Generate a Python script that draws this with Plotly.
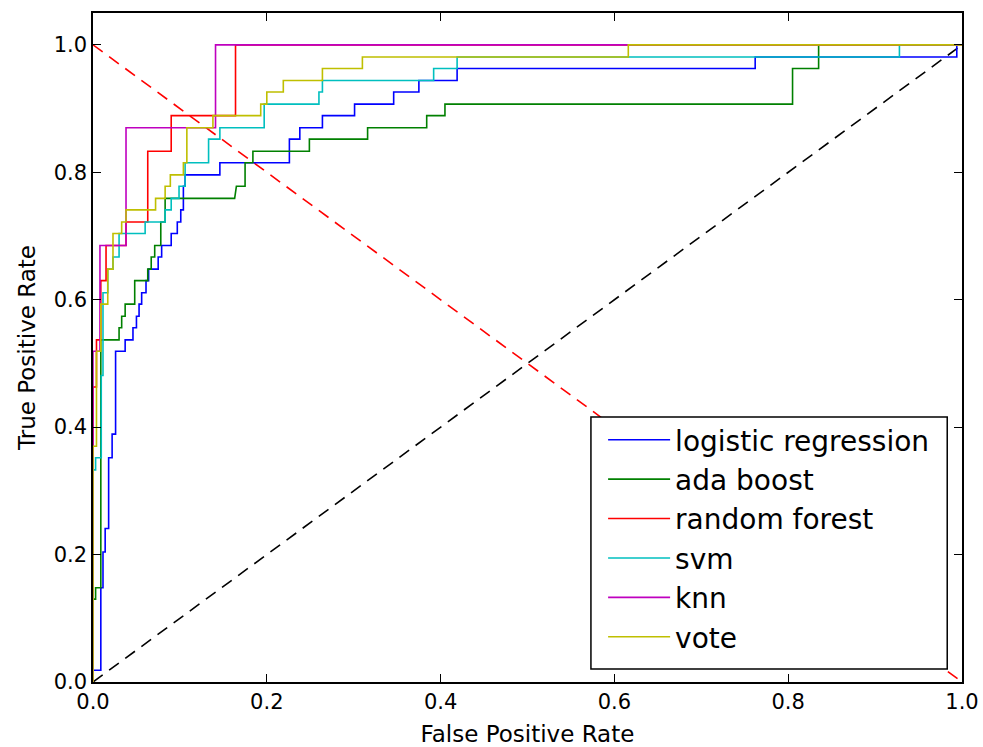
import plotly.graph_objects as go

# ROC curve points (false positive rate, true positive rate)
lr_fpr = [0, 0, 0.009, 0.009, 0.0115, 0.0115, 0.014, 0.014, 0.018, 0.018, 0.022, 0.022, 0.026, 0.026,
          0.037, 0.037, 0.046, 0.046, 0.050, 0.050, 0.053, 0.053, 0.056, 0.056, 0.061, 0.061, 0.064, 0.064,
          0.075, 0.075, 0.079, 0.079, 0.090, 0.090, 0.097, 0.097, 0.101, 0.101, 0.104, 0.104, 0.106, 0.106,
          0.146, 0.146, 0.226, 0.226, 0.238, 0.238, 0.264, 0.264, 0.301, 0.301, 0.346, 0.346, 0.375, 0.375,
          0.419, 0.419, 0.762, 0.762, 0.994, 0.994, 1.0]
lr_tpr = [0, 0.0185, 0.0185, 0.148, 0.148, 0.204, 0.204, 0.241, 0.241, 0.352, 0.352, 0.389, 0.389, 0.519,
          0.519, 0.537, 0.537, 0.556, 0.556, 0.574, 0.574, 0.593, 0.593, 0.611, 0.611, 0.630, 0.630, 0.648,
          0.648, 0.667, 0.667, 0.685, 0.685, 0.704, 0.704, 0.722, 0.722, 0.741, 0.741, 0.778, 0.778, 0.796,
          0.796, 0.815, 0.815, 0.852, 0.852, 0.870, 0.870, 0.889, 0.889, 0.907, 0.907, 0.926, 0.926, 0.944,
          0.944, 0.963, 0.963, 0.981, 0.981, 1.0, 1.0]

ada_fpr = [0, 0, 0.003, 0.003, 0.009, 0.009, 0.030, 0.030, 0.033, 0.033, 0.037, 0.037, 0.048, 0.048,
           0.063, 0.063, 0.067, 0.067, 0.071, 0.071, 0.078, 0.078, 0.083, 0.083, 0.163, 0.165, 0.175, 0.175,
           0.184, 0.184, 0.249, 0.249, 0.316, 0.316, 0.384, 0.384, 0.405, 0.405, 0.805, 0.805, 0.835, 0.835, 1.0]
ada_tpr = [0, 0.130, 0.130, 0.148, 0.148, 0.537, 0.537, 0.556, 0.556, 0.574, 0.574, 0.593, 0.593, 0.630,
           0.630, 0.648, 0.648, 0.667, 0.667, 0.685, 0.685, 0.722, 0.722, 0.759, 0.759, 0.778, 0.778, 0.815,
           0.815, 0.833, 0.833, 0.852, 0.852, 0.870, 0.870, 0.889, 0.889, 0.907, 0.907, 0.963, 0.963, 1.0, 1.0]

rf_fpr = [0, 0, 0.004, 0.004, 0.009, 0.009, 0.015, 0.015, 0.038, 0.038, 0.063, 0.063, 0.090, 0.090,
          0.164, 0.164, 1.0]
rf_tpr = [0, 0.463, 0.463, 0.537, 0.537, 0.630, 0.630, 0.685, 0.685, 0.722, 0.722, 0.833, 0.833, 0.889,
          0.889, 1.0, 1.0]

svm_fpr = [0, 0, 0.003, 0.003, 0.0095, 0.0095, 0.0115, 0.0115, 0.017, 0.017, 0.023, 0.023, 0.030, 0.030,
           0.060, 0.060, 0.083, 0.083, 0.090, 0.090, 0.099, 0.099, 0.106, 0.106, 0.133, 0.133, 0.146, 0.146,
           0.197, 0.197, 0.260, 0.260, 0.264, 0.264, 0.392, 0.392, 0.419, 0.419, 0.928, 0.928, 1.0]
svm_tpr = [0, 0.333, 0.333, 0.352, 0.352, 0.481, 0.481, 0.611, 0.611, 0.648, 0.648, 0.667, 0.667, 0.704,
           0.704, 0.722, 0.722, 0.741, 0.741, 0.759, 0.759, 0.778, 0.778, 0.815, 0.815, 0.852, 0.852, 0.870,
           0.870, 0.907, 0.907, 0.926, 0.926, 0.944, 0.944, 0.963, 0.963, 0.981, 0.981, 1.0, 1.0]

knn_fpr = [0, 0, 0.008, 0.008, 0.038, 0.038, 0.141, 0.141, 1.0]
knn_tpr = [0, 0.519, 0.519, 0.685, 0.685, 0.870, 0.870, 1.0, 1.0]

vote_fpr = [0, 0, 0.004, 0.004, 0.009, 0.009, 0.017, 0.017, 0.023, 0.023, 0.033, 0.033, 0.038, 0.038,
            0.072, 0.072, 0.083, 0.083, 0.089, 0.089, 0.104, 0.104, 0.108, 0.108, 0.138, 0.138, 0.193, 0.193,
            0.200, 0.200, 0.219, 0.219, 0.264, 0.264, 0.310, 0.310, 0.616, 0.616, 1.0]
vote_tpr = [0, 0.370, 0.370, 0.519, 0.519, 0.593, 0.593, 0.648, 0.648, 0.704, 0.704, 0.722, 0.722, 0.741,
            0.741, 0.759, 0.759, 0.778, 0.778, 0.796, 0.796, 0.815, 0.815, 0.870, 0.870, 0.889, 0.889, 0.907,
            0.907, 0.926, 0.926, 0.944, 0.944, 0.963, 0.963, 0.981, 0.981, 1.0, 1.0]

names = ["logistic regression", "ada boost", "random forest", "svm", "knn", "vote"]
colors = ["#0000FF", "#008000", "#FF0000", "#00BFBF", "#BF00BF", "#BFBF00"]
series_x = [lr_fpr, ada_fpr, rf_fpr, svm_fpr, knn_fpr, vote_fpr]
series_y = [lr_tpr, ada_tpr, rf_tpr, svm_tpr, knn_tpr, vote_tpr]

diag_x = [0, 1]
diag_y = [0, 1]
anti_y = [1, 0]

tick_vals = [0.0, 0.2, 0.4, 0.6, 0.8, 1.0]
tick_text = ["0.0", "0.2", "0.4", "0.6", "0.8", "1.0"]

fig = go.Figure()
fig.add_trace(go.Scatter(x=diag_x, y=anti_y, mode="lines", showlegend=False,
                         line=dict(color="#FF0000", width=1.6, dash="12px,8px")))
fig.add_trace(go.Scatter(x=diag_x, y=diag_y, mode="lines", showlegend=False,
                         line=dict(color="#000000", width=1.6, dash="12px,8px")))
for n, c, xs, ys in zip(names, colors, series_x, series_y):
    fig.add_trace(go.Scatter(x=xs, y=ys, mode="lines", name=n,
                             line=dict(color=c, width=1.6)))

# legend frame (white box drawn above the plot lines, below the legend entries)
fig.add_shape(type="rect", xref="paper", yref="paper",
              x0=0.573, x1=0.983, y0=0.0194, y1=0.396,
              fillcolor="white", line=dict(color="black", width=1.5), layer="above")

font_family = "DejaVu Sans"
fig.update_layout(
    width=983, height=747,
    margin=dict(l=93, r=21, t=13, b=65),
    paper_bgcolor="white", plot_bgcolor="white",
    font=dict(family=font_family, color="black", size=21),
    legend=dict(x=0.587, y=0.399, xanchor="left", yanchor="top",
                bgcolor="rgba(0,0,0,0)", borderwidth=0,
                font=dict(size=28, family=font_family),
                itemwidth=62, tracegroupgap=0),
)
fig.update_xaxes(range=[0, 1], tickvals=tick_vals, ticktext=tick_text, automargin=False,
                 showgrid=False, zeroline=False, showline=True, linecolor="black", linewidth=1.5,
                 mirror="allticks", ticks="inside", ticklen=8, tickcolor="black",
                 tickfont=dict(size=21),
                 title=dict(text="False Positive Rate", font=dict(size=23), standoff=16))
fig.update_yaxes(range=[0, 1.05], tickvals=tick_vals, ticktext=tick_text, automargin=False,
                 showgrid=False, zeroline=False, showline=True, linecolor="black", linewidth=1.5,
                 mirror="allticks", ticks="inside", ticklen=8, tickcolor="black",
                 tickfont=dict(size=21),
                 title=dict(text="True Positive Rate", font=dict(size=23), standoff=12))

fig.write_html("out.html")
